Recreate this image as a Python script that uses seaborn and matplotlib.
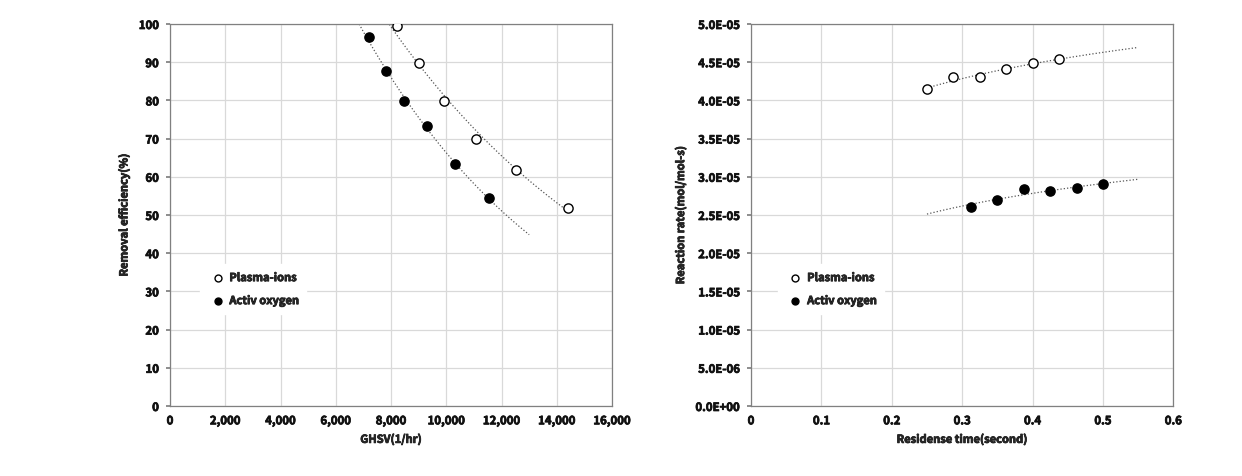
import numpy as np
import pandas as pd
import matplotlib
matplotlib.use("Agg")
import matplotlib.pyplot as plt
import matplotlib.patheffects as pe
import seaborn as sns
from matplotlib.ticker import FuncFormatter, MultipleLocator

# ---- data ----
ghsv_plasma = [8230, 9000, 9920, 11090, 12540, 14410]
eff_plasma = [99.4, 89.8, 79.8, 69.9, 61.9, 51.9]
ghsv_oxygen = [7200, 7800, 8480, 9290, 10310, 11540]
eff_oxygen = [96.5, 87.8, 79.8, 73.2, 63.3, 54.5]

time_plasma = [0.25, 0.2875, 0.325, 0.3625, 0.40, 0.438]
rate_plasma = [4.15e-5, 4.30e-5, 4.30e-5, 4.41e-5, 4.49e-5, 4.54e-5]
time_oxygen = [0.312, 0.350, 0.3875, 0.425, 0.463, 0.500]
rate_oxygen = [2.61e-5, 2.70e-5, 2.84e-5, 2.81e-5, 2.85e-5, 2.90e-5]

series_labels = ["Plasma-ions", "Activ oxygen"]
left_xticks = [0, 2000, 4000, 6000, 8000, 10000, 12000, 14000, 16000]
right_xticks = [0, 0.1, 0.2, 0.3, 0.4, 0.5, 0.6]

W = "bold"
sns.set_theme(style="whitegrid")
plt.rcParams['font.family'] = ['Noto Sans CJK KR', 'DejaVu Sans']
plt.rcParams['font.weight'] = W
bold_fx = [pe.withStroke(linewidth=0.55, foreground="#111111")]

fig = plt.figure(figsize=(12.42, 4.77), dpi=100)
axL = fig.add_axes([0.1369, 0.1468, 0.3559, 0.8008])
axR = fig.add_axes([0.6047, 0.1468, 0.3400, 0.8008])

def style_ax(ax):
    ax.set_facecolor("white")
    ax.grid(True, color="#d9d9d9", linewidth=0.9)
    for s in ax.spines.values():
        s.set_color("#808080")
        s.set_linewidth(0.9)
    ax.tick_params(axis="y", which="major", length=3, color="#808080",
                   left=True, labelsize=8.2, pad=5)
    ax.tick_params(axis="x", which="major", length=0, labelsize=8.2, pad=6)
    for lab in ax.get_xticklabels() + ax.get_yticklabels():
        lab.set_fontweight(W)
        lab.set_color("#111111")
        lab.set_path_effects(bold_fx)
    ax.xaxis.label.set_path_effects(bold_fx)
    ax.yaxis.label.set_path_effects(bold_fx)

ms = 44
line_kw = dict(color="#555555", linestyle=":", linewidth=0.9)

# ---- left: exponential trend lines fitted to data ----
def exp_fit(x, y, xr):
    p = np.polyfit(x, np.log(y), 1)
    xs = np.linspace(xr[0], xr[1], 200)
    return xs, np.exp(np.polyval(p, xs))

xs1, ys1 = exp_fit(ghsv_plasma, eff_plasma, (7800, 14450))
xs2, ys2 = exp_fit(ghsv_oxygen, eff_oxygen, (6500, 13000))
sns.lineplot(x=xs1, y=ys1, ax=axL, **line_kw)
sns.lineplot(x=xs2, y=ys2, ax=axL, **line_kw)
sns.scatterplot(x=ghsv_plasma, y=eff_plasma, ax=axL, s=ms, facecolor="white",
                edgecolor="black", linewidth=1.0, label=series_labels[0], zorder=5)
sns.scatterplot(x=ghsv_oxygen, y=eff_oxygen, ax=axL, s=ms, color="black",
                edgecolor="black", linewidth=1.0, label=series_labels[1], zorder=5)
axL.set_xlim(0, 16000)
axL.set_ylim(0, 100)
axL.set_xticks(left_xticks)
axL.xaxis.set_major_formatter(FuncFormatter(lambda v, p: "0" if v == 0 else f"{int(v):,}"))
axL.yaxis.set_major_locator(MultipleLocator(10))
axL.set_xlabel("GHSV(1/hr)", fontsize=8, fontweight=W, labelpad=4)
axL.set_ylabel("Removal efficiency(%)", fontsize=8, fontweight=W, labelpad=6)
style_ax(axL)

# ---- right: logarithmic trend lines fitted to data ----
def log_fit(x, y, xr):
    p = np.polyfit(np.log(x), y, 1)
    xs = np.linspace(xr[0], xr[1], 200)
    return xs, np.polyval(p, np.log(xs))

xs3, ys3 = log_fit(time_plasma, rate_plasma, (0.25, 0.55))
xs4, ys4 = log_fit(time_oxygen, rate_oxygen, (0.25, 0.55))
sns.lineplot(x=xs3, y=ys3, ax=axR, **line_kw)
sns.lineplot(x=xs4, y=ys4, ax=axR, **line_kw)
sns.scatterplot(x=time_plasma, y=rate_plasma, ax=axR, s=ms, facecolor="white",
                edgecolor="black", linewidth=1.0, label=series_labels[0], zorder=5)
sns.scatterplot(x=time_oxygen, y=rate_oxygen, ax=axR, s=ms, color="black",
                edgecolor="black", linewidth=1.0, label=series_labels[1], zorder=5)
axR.set_xlim(0, 0.6)
axR.set_ylim(0, 5e-5)
axR.set_xticks(right_xticks)
axR.xaxis.set_major_formatter(FuncFormatter(lambda v, p: "0" if v == 0 else f"{v:.1f}"))
axR.yaxis.set_major_locator(MultipleLocator(5e-6))
axR.yaxis.set_major_formatter(FuncFormatter(lambda v, p: f"{v:.1E}" if v != 0 else "0.0E+00"))
axR.set_xlabel("Residense time(second)", fontsize=8, fontweight=W, labelpad=4)
axR.set_ylabel("Reaction rate(mol/mol-s)", fontsize=8, fontweight=W, labelpad=6)
style_ax(axR)

for ax, anchor in [(axL, (0.055, 0.385)), (axR, (0.05, 0.385))]:
    leg = ax.legend(loc="upper left", bbox_to_anchor=anchor, frameon=True,
                    facecolor="white", edgecolor="white", framealpha=1,
                    fontsize=8, handletextpad=0.05, labelspacing=0.9,
                    markerscale=0.75, borderpad=0.6)
    for t in leg.get_texts():
        t.set_fontweight(W)
        t.set_path_effects(bold_fx)

fig.savefig("out.png", dpi=100)
